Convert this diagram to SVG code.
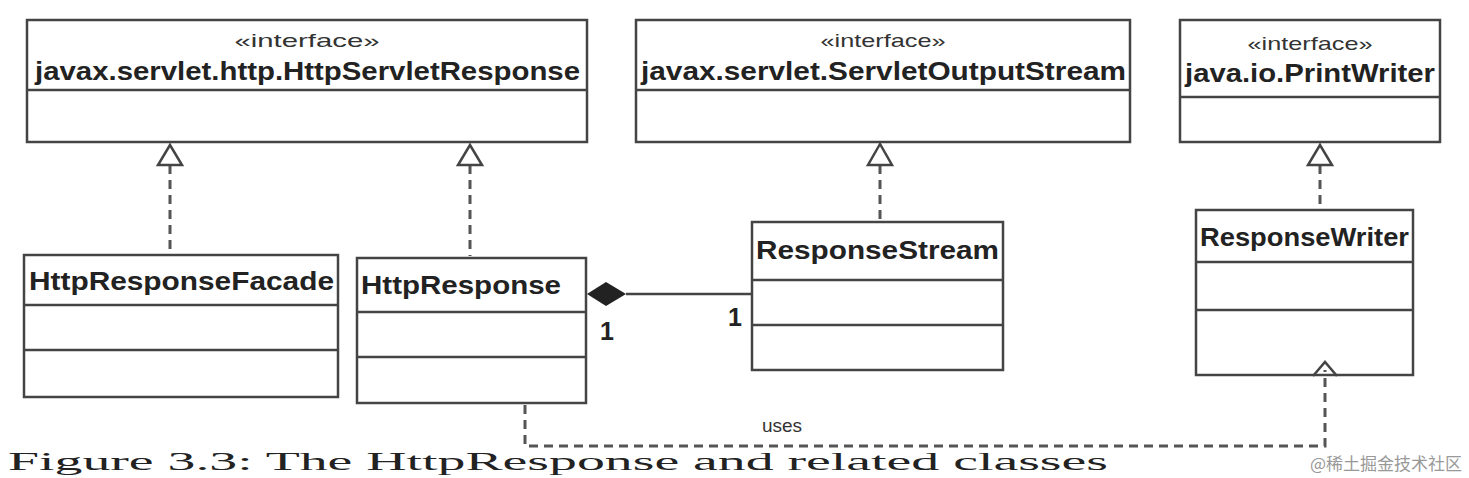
<svg xmlns="http://www.w3.org/2000/svg" width="1469" height="478" viewBox="0 0 1469 478">
<style>
.box{fill:#fff;stroke:#444;stroke-width:2.5}
.ln{stroke:#444;stroke-width:2.5;fill:none}
.dash{stroke:#555;stroke-width:3;fill:none;stroke-dasharray:9 6}
.st{font-family:"Liberation Sans",Arial,sans-serif;font-size:19px;fill:#333;text-anchor:middle}
.nm{font-family:"Liberation Sans",Arial,sans-serif;font-size:25px;font-weight:bold;fill:#222}
.tri{fill:#fff;stroke:#444;stroke-width:2.5}
</style>
<rect width="1469" height="478" fill="#fff"/>
<g id="HttpServletResponse"><rect class="box" x="27" y="20" width="560" height="122"/><line class="ln" x1="27" y1="90" x2="587" y2="90"/><text class="st" x="307" y="47" textLength="145" lengthAdjust="spacingAndGlyphs">«interface»</text><text class="nm" x="35" y="80" textLength="545" lengthAdjust="spacingAndGlyphs">javax.servlet.http.HttpServletResponse</text></g>
<g id="ServletOutputStream"><rect class="box" x="636" y="20" width="494" height="122"/><line class="ln" x1="636" y1="90" x2="1130" y2="90"/><text class="st" x="883" y="47" textLength="125" lengthAdjust="spacingAndGlyphs">«interface»</text><text class="nm" x="641" y="80" textLength="485" lengthAdjust="spacingAndGlyphs">javax.servlet.ServletOutputStream</text></g>
<g id="PrintWriter"><rect class="box" x="1180" y="20" width="260" height="122"/><line class="ln" x1="1180" y1="97" x2="1440" y2="97"/><text class="st" x="1310" y="50" textLength="125" lengthAdjust="spacingAndGlyphs">«interface»</text><text class="nm" x="1185" y="82" textLength="250" lengthAdjust="spacingAndGlyphs">java.io.PrintWriter</text></g>
<g id="HttpResponseFacade"><rect class="box" x="24" y="255" width="314" height="142"/><line class="ln" x1="24" y1="305" x2="338" y2="305"/><line class="ln" x1="24" y1="350" x2="338" y2="350"/><text class="nm" x="29" y="290" textLength="305" lengthAdjust="spacingAndGlyphs">HttpResponseFacade</text></g>
<g id="HttpResponse"><rect class="box" x="357" y="258" width="229" height="145"/><line class="ln" x1="357" y1="312" x2="586" y2="312"/><line class="ln" x1="357" y1="357" x2="586" y2="357"/><text class="nm" x="361" y="294" textLength="200" lengthAdjust="spacingAndGlyphs">HttpResponse</text></g>
<g id="ResponseStream"><rect class="box" x="752" y="222" width="251" height="148"/><line class="ln" x1="752" y1="280" x2="1003" y2="280"/><line class="ln" x1="752" y1="325" x2="1003" y2="325"/><text class="nm" x="756" y="259" textLength="243" lengthAdjust="spacingAndGlyphs">ResponseStream</text></g>
<g id="ResponseWriter"><rect class="box" x="1196" y="210" width="217" height="165"/><line class="ln" x1="1196" y1="262" x2="1413" y2="262"/><line class="ln" x1="1196" y1="310" x2="1413" y2="310"/><text class="nm" x="1200" y="246" textLength="209" lengthAdjust="spacingAndGlyphs">ResponseWriter</text></g>
<g id="connectors">
<path class="dash" d="M170 165V252"/><path class="tri" d="M170 145L158 165H182Z"/>
<path class="dash" d="M470 165V256"/><path class="tri" d="M470 145L458 165H482Z"/>
<path class="dash" d="M880 165V220"/><path class="tri" d="M880 144L868 165H892Z"/>
<path class="dash" d="M1320 165V208"/><path class="tri" d="M1320 145L1308 165H1332Z"/>
<line class="ln" x1="626" y1="294" x2="752" y2="294"/>
<path d="M587 294L606 282L626 294L606 306Z" fill="#222"/>
<text class="nm" x="600" y="340" font-size="22">1</text><text class="nm" x="728" y="326" font-size="22">1</text>
<path class="dash" d="M525 405V446H1325V370"/>
<path class="ln" d="M1313 376L1325 362L1337 376"/>
<text class="st" x="782" y="432" fill="#555">uses</text>
</g>
<text x="8" y="470" font-family="Liberation Serif,serif" font-size="26" fill="#222" textLength="1100" lengthAdjust="spacingAndGlyphs">Figure 3.3: The HttpResponse and related classes</text>
<text x="1462" y="470" font-family="Noto Sans CJK SC,sans-serif" font-size="17" fill="#999" text-anchor="end">@稀土掘金技术社区</text>
</svg>
